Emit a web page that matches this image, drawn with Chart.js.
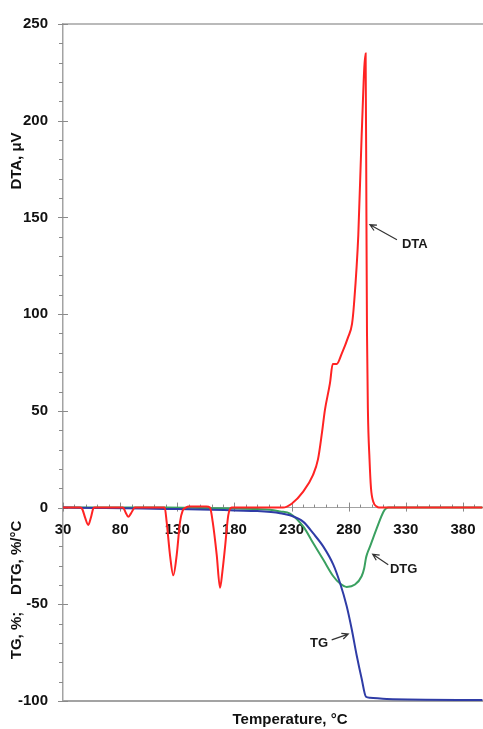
<!DOCTYPE html>
<html>
<head>
<meta charset="utf-8">
<script src="https://cdn.jsdelivr.net/npm/chart.js@4.4.1/dist/chart.umd.min.js"></script>
<style>
  html, body { margin: 0; padding: 0; background: #fff; }
  #wrap { width: 483px; height: 729px; position: relative; }
</style>
</head>
<body>
<div id="wrap"><canvas id="taChart"></canvas></div>
<script>
// temperature ticks (°C) and value ticks
const xTickLabels = [30, 80, 130, 180, 230, 280, 330, 380];
const yTickLabels = [-100, -50, 0, 50, 100, 150, 200, 250];

// DTA, μV
const dtaTemp = [30, 45, 47, 49.5, 52.1, 54.5, 56.5, 58, 82.5, 84.8, 87.1, 89.5, 93,
  119, 120.7, 123.6, 126.5, 129.5, 132.4, 134.8, 137.5, 140, 155.5, 158.6, 161, 164.5,
  167.4, 169.5, 171.7, 174.6, 177.6, 222.5, 230.1, 240, 248.7, 253.1, 256.6, 259.2,
  263.6, 266, 269.5, 273.9, 279.4, 282.9, 284.6, 288.4, 291.3, 294.8, 295.5, 296,
  296.8, 298.2, 299.5, 301.5, 304.5, 306.5, 397];
const dtaValues = [0, 0, -1, -5.5, -9, -5, -0.5, 0, 0, -2.5, -4.8, -3, 0,
  0, -7.4, -24.4, -35, -24.4, -7.4, -1.5, 0, 0.6, 0.6, 0, -7.4, -24.4,
  -41.5, -33, -21, -4, 0, 0, 2, 8.1, 16.8, 24.9, 38.7, 50.5,
  64.3, 74.2, 74.2, 79.6, 88, 95, 105, 141, 192, 234.8, 150, 90,
  50, 25, 10, 3, 0.5, 0, 0];

// TG, %
const tgTemp = [30, 60, 100, 130, 160, 180, 200, 212, 220, 228.6, 240.3, 249, 257.8,
  266.5, 272.4, 278.2, 282.6, 287, 291.3, 295.1, 298.6, 313.2, 397];
const tgValues = [0, -0.2, -0.5, -0.8, -1.1, -1.5, -1.8, -2.3, -2.9, -4, -7.4, -13.4, -20.2,
  -29.5, -39, -50.9, -62.8, -76.5, -88.4, -97.8, -98.3, -99, -99.5];

// DTG, %/°C
const dtgTemp = [30, 120, 150, 180, 200, 211, 220, 228.6, 240.3, 249, 257.8, 266.5,
  272.4, 278.2, 285.5, 291.3, 293.6, 295.1, 296.3, 298.6, 304.5, 310.3, 312.6, 315, 397];
const dtgValues = [0, 0, -0.2, -0.5, -0.8, -1.1, -2, -3.1, -9.9, -18.5, -27, -35.5,
  -39.3, -41, -39.8, -35.5, -31.2, -26.1, -23.6, -20.2, -10.8, -2.3, -0.5, 0, 0];

// curve labels: [text, labelX, labelY, arrowTailX, arrowTailY, arrowHeadX, arrowHeadY]
const curveNotes = [
  ["DTA", 326.6, 135.9, 322.2, 138.5, 298.6, 146.2],
  ["DTG", 316.1, -31.9, 314.6, -29.5, 301, -24.1],
  ["TG", 246.1, -70.3, 265.1, -68.4, 279.6, -65.4],
];

const FONT = "'Liberation Sans', Arial, sans-serif";
const AXIS_GREY = "#a3a3a3";

const toPoints = (xs, ys) => xs.map((x, i) => ({ x: x, y: ys[i] }));

const decorPlugin = {
  id: "decor",
  beforeDatasetsDraw(chart) {
    const { ctx, chartArea: a, scales: { x, y } } = chart;
    ctx.save();
    ctx.strokeStyle = AXIS_GREY;

    // top and bottom frame lines
    ctx.lineWidth = 1.5;
    const yTop = y.getPixelForValue(250);
    ctx.beginPath();
    ctx.moveTo(a.left, yTop);
    ctx.lineTo(a.right, yTop);
    ctx.stroke();
    ctx.lineWidth = 2;
    const yBot = y.getPixelForValue(-100);
    ctx.beginPath();
    ctx.moveTo(a.left, yBot);
    ctx.lineTo(a.right, yBot);
    ctx.stroke();

    // y ticks, minor every 10
    ctx.lineWidth = 1;
    ctx.strokeStyle = "#8a8a8a";
    for (let v = -100; v <= 250; v += 10) {
      const py = Math.round(y.getPixelForValue(v)) + 0.5;
      ctx.beginPath();
      if (v % 50 === 0) {
        ctx.moveTo(a.left - 5, py);
        ctx.lineTo(a.left + 5, py);
      } else {
        ctx.moveTo(a.left - 4, py);
        ctx.lineTo(a.left, py);
      }
      ctx.stroke();
    }

    // x ticks on the zero line
    const y0 = y.getPixelForValue(0);
    for (let v = 30; v <= x.max; v += 10) {
      const px = Math.round(x.getPixelForValue(v)) + 0.5;
      ctx.beginPath();
      if ((v - 30) % 50 === 0) {
        ctx.moveTo(px, y0 - 5);
        ctx.lineTo(px, y0 + 4);
      } else {
        ctx.moveTo(px, y0 - 3);
        ctx.lineTo(px, y0);
      }
      ctx.stroke();
    }
    ctx.restore();
  },
  afterDraw(chart) {
    const { ctx, scales: { x, y } } = chart;
    ctx.save();
    ctx.fillStyle = "#1a1a1a";
    ctx.strokeStyle = "#333";
    ctx.lineWidth = 1.2;

    // curve labels with arrows
    ctx.font = "bold 13px " + FONT;
    ctx.textAlign = "left";
    ctx.textBaseline = "middle";
    curveNotes.forEach(([txt, lx, ly, tx, ty, hx, hy]) => {
      ctx.fillText(txt, x.getPixelForValue(lx), y.getPixelForValue(ly));
      const x1 = x.getPixelForValue(tx), y1 = y.getPixelForValue(ty);
      const x2 = x.getPixelForValue(hx), y2 = y.getPixelForValue(hy);
      const ang = Math.atan2(y2 - y1, x2 - x1);
      ctx.beginPath();
      ctx.moveTo(x1, y1);
      ctx.lineTo(x2, y2);
      ctx.moveTo(x2 - 7 * Math.cos(ang - 0.45), y2 - 7 * Math.sin(ang - 0.45));
      ctx.lineTo(x2, y2);
      ctx.lineTo(x2 - 7 * Math.cos(ang + 0.45), y2 - 7 * Math.sin(ang + 0.45));
      ctx.stroke();
    });

    // axis titles
    ctx.fillStyle = "#111";
    ctx.font = "bold 15px " + FONT;
    ctx.textAlign = "center";
    ctx.save();
    ctx.translate(17, 161);
    ctx.rotate(-Math.PI / 2);
    ctx.fillText("DTA, μV", 0, 0);
    ctx.restore();
    ctx.save();
    ctx.translate(17, 590);
    ctx.rotate(-Math.PI / 2);
    ctx.fillText("TG, %;    DTG, %/°C", 0, 0);
    ctx.restore();
    ctx.fillText("Temperature, °C", 290, 720);
    ctx.restore();
  },
};

const ctx = document.getElementById("taChart").getContext("2d");
new Chart(ctx, {
  type: "line",
  data: {
    datasets: [
      {
        label: "DTA",
        data: toPoints(dtaTemp, dtaValues),
        borderColor: "#ff2323",
        borderWidth: 2,
        pointRadius: 0,
        cubicInterpolationMode: "monotone",
      },
      {
        label: "TG",
        data: toPoints(tgTemp, tgValues),
        borderColor: "#2f3ca6",
        borderWidth: 2,
        pointRadius: 0,
        cubicInterpolationMode: "monotone",
      },
      {
        label: "DTG",
        data: toPoints(dtgTemp, dtgValues),
        borderColor: "#3aa060",
        borderWidth: 2,
        pointRadius: 0,
        cubicInterpolationMode: "monotone",
      },
    ],
  },
  options: {
    responsive: true,
    maintainAspectRatio: false,
    animation: false,
    layout: { padding: { left: 0, top: 17, right: 0, bottom: 28 } },
    plugins: {
      legend: { display: false },
      tooltip: { enabled: false },
    },
    scales: {
      x: {
        type: "linear",
        min: 30,
        max: 397.5,
        position: { y: 0 },
        afterBuildTicks: (scale) => {
          scale.ticks = xTickLabels.map((v) => ({ value: v }));
        },
        grid: { display: false, drawTicks: true, tickLength: 10 },
        border: { display: true, color: AXIS_GREY, width: 1 },
        ticks: {
          color: "#111",
          font: { family: FONT, size: 15, weight: "bold" },
          maxRotation: 0,
          autoSkip: false,
        },
      },
      y: {
        type: "linear",
        min: -100,
        max: 250,
        afterBuildTicks: (scale) => {
          scale.ticks = yTickLabels.map((v) => ({ value: v }));
        },
        afterFit: (scale) => {
          scale.width = 63;
        },
        grid: { display: false, drawTicks: false },
        border: { display: true, color: AXIS_GREY, width: 1.5 },
        ticks: {
          color: "#111",
          padding: 15,
          font: { family: FONT, size: 15, weight: "bold" },
        },
      },
    },
  },
  plugins: [decorPlugin],
});
</script>
</body>
</html>
